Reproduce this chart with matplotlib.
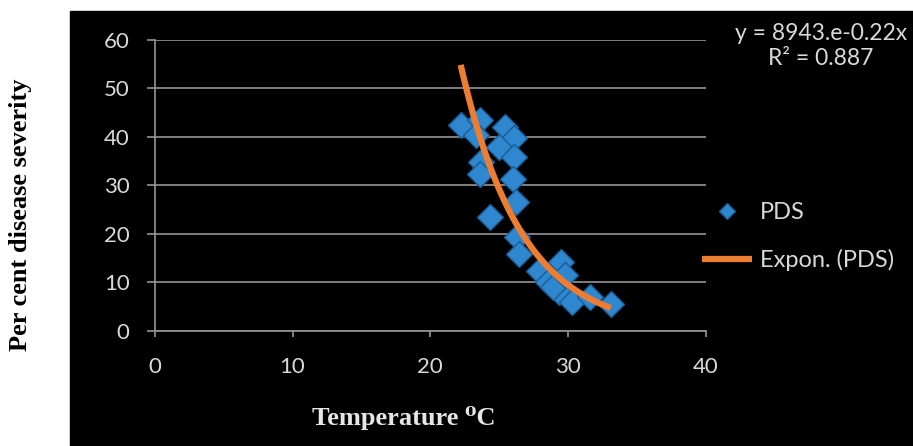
import numpy as np
import matplotlib
matplotlib.use('Agg')
import matplotlib.pyplot as plt
from matplotlib.patches import Rectangle

# temperature (deg C) and per cent disease severity
temp = [22.2, 23.6, 23.3, 25.4, 26.1, 25.0, 26.1, 23.7, 23.6, 26.0,
        26.2, 24.3, 26.3, 26.4, 29.5, 27.9, 28.5, 29.3, 30.3, 31.6,
        33.1, 28.9, 29.8]
pds = [42.4, 43.5, 40.4, 42.1, 39.7, 37.9, 35.9, 34.8, 32.4, 31.4,
       26.6, 23.5, 19.3, 15.9, 14.1, 12.4, 10.0, 7.9, 5.9, 6.9,
       5.5, 9.0, 11.5]

xticks = [0, 10, 20, 30, 40]
yticks = [0, 10, 20, 30, 40, 50, 60]

W, H = 913, 446
fig = plt.figure(figsize=(W / 100, H / 100), dpi=100)
fig.patch.set_facecolor('white')
# black chart area (the white strip on the left/top is outside it)
fig.patches.append(Rectangle((70 / W, 0), 1 - 70 / W, 1 - 11 / H,
                             transform=fig.transFigure, color='black', zorder=-1))

ax = fig.add_axes([154.7 / W, 1 - 330.7 / H, 551.3 / W, 290.7 / H])
ax.set_zorder(2)
ax.set_facecolor('black')

grid_c = '#969696'
ax.set_xlim(0, 40)
ax.set_ylim(0, 60)
ax.set_xticks(xticks)
ax.set_yticks(yticks)
ax.yaxis.grid(True, color=grid_c, lw=1.2)
ax.set_axisbelow(True)
for s in ['top', 'right']:
    ax.spines[s].set_visible(False)
for s in ['left', 'bottom']:
    ax.spines[s].set_color(grid_c)
    ax.spines[s].set_linewidth(1.2)
ax.tick_params(axis='y', length=6, width=1.2, color=grid_c, pad=12,
               labelcolor='#d9d9d9', labelsize=16)
ax.tick_params(axis='x', length=4, width=1.2, color=grid_c, pad=15,
               labelcolor='#d9d9d9', labelsize=16)
for lab in ax.get_xticklabels() + ax.get_yticklabels():
    lab.set_fontfamily('Lato')

# points
ax.plot(temp, pds, 'D', ms=13, mfc='#2f87d0', mec='#1b5c94', mew=1,
        label='PDS', zorder=3, clip_on=False)

# exponential trend line fitted to the points
t = np.array(temp)
p = np.array(pds)
b, ln_a = np.polyfit(t, np.log(p), 1)
tx = np.linspace(t.min(), t.max(), 100)
ax.plot(tx, np.exp(ln_a) * np.exp(b * tx), color='#ed7d31', lw=4.5,
        label='Expon. (PDS)', zorder=4, solid_capstyle='butt')

leg = ax.legend(loc='upper left', bbox_to_anchor=(702 / W, 1 - 202 / H),
                bbox_transform=fig.transFigure, frameon=False,
                prop={'family': 'Lato', 'size': 17}, labelcolor='#d9d9d9',
                handlelength=2.1, handletextpad=0.35, labelspacing=1.1,
                borderpad=0, borderaxespad=0, markerscale=0.65)

fig.text(821 / W, 1 - 23 / H, 'y = 8943.e-0.22x\nR² = 0.887', ha='center',
         va='top', fontsize=16.5, family='Lato', color='#d9d9d9',
         linespacing=1.25)

fig.text(404 / W, 1 - 418 / H, 'Temperature \u2070C', ha='center', va='center',
         fontsize=19, fontweight='bold', color='#e6e6e6',
         family=['Liberation Serif', 'DejaVu Serif'])
fig.text(21 / W, 1 - 215 / H, 'Per cent disease severity', ha='center',
         va='center', rotation=90, fontsize=19, fontweight='bold',
         color='black', family=['Liberation Serif', 'DejaVu Serif'])

fig.savefig('out.png', dpi=100, facecolor=fig.get_facecolor())
